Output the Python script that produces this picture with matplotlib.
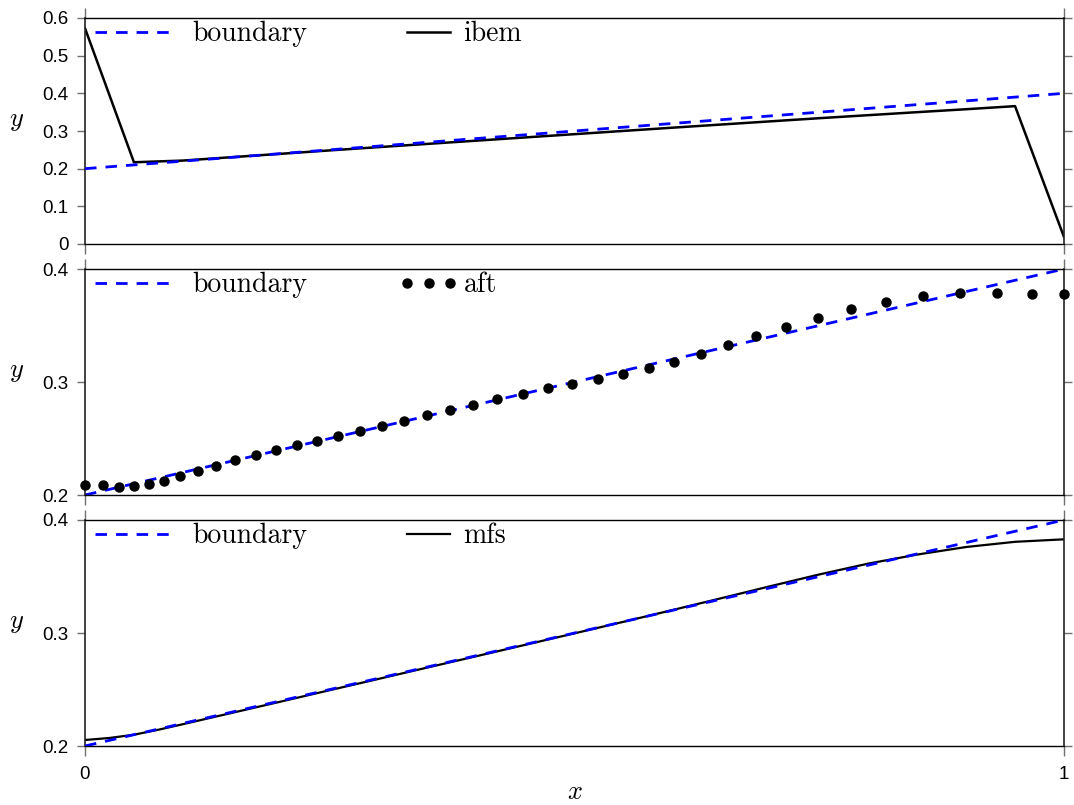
import matplotlib
matplotlib.use('Agg')
import matplotlib.pyplot as plt
from matplotlib.lines import Line2D
from matplotlib.legend_handler import HandlerLine2D

plt.rcParams['mathtext.fontset'] = 'cm'
plt.rcParams['lines.scale_dashes'] = False

# ---------------- data ----------------
boundary_x = [0.0, 0.25, 0.5, 0.75, 1.0]
boundary_y = [0.2, 0.25, 0.3, 0.35, 0.4]

ibem_x = [0.0, 0.05, 0.1, 0.15, 0.2, 0.25, 0.3, 0.35, 0.4, 0.45, 0.5,
          0.55, 0.6, 0.65, 0.7, 0.75, 0.8, 0.85, 0.9, 0.95, 1.0]
ibem_y = [0.5727, 0.2170, 0.2215, 0.2305, 0.2395, 0.2485, 0.2572, 0.2658,
          0.2744, 0.2830, 0.2916, 0.3002, 0.3088, 0.3172, 0.3256, 0.3340,
          0.3420, 0.3500, 0.3578, 0.3660, 0.0186]

aft_x = [0.0, 0.0181, 0.0347, 0.0501, 0.0654, 0.0810, 0.0973, 0.1151, 0.1341,
         0.1535, 0.1744, 0.1951, 0.2162, 0.2370, 0.2587, 0.2809, 0.3034,
         0.3258, 0.3490, 0.3728, 0.3966, 0.4211, 0.4471, 0.4726, 0.4978,
         0.5240, 0.5498, 0.5758, 0.6019, 0.6289, 0.6563, 0.6854, 0.7163,
         0.7484, 0.7827, 0.8185, 0.8560, 0.8941, 0.9313, 0.9673, 1.0]
aft_y = [0.2086, 0.2086, 0.2074, 0.2077, 0.2094, 0.2127, 0.2165, 0.2212, 0.2260,
         0.2307, 0.2351, 0.2395, 0.2440, 0.2481, 0.2522, 0.2566, 0.2611,
         0.2655, 0.2704, 0.2752, 0.2799, 0.2850, 0.2897, 0.2944, 0.2985,
         0.3029, 0.3074, 0.3124, 0.3180, 0.3245, 0.3324, 0.3404, 0.3484,
         0.3569, 0.3643, 0.3711, 0.3758, 0.3785, 0.3785, 0.3776, 0.3776]

mfs_x = [0.0, 0.025, 0.05, 0.075, 0.1, 0.15, 0.2, 0.25, 0.3, 0.35, 0.4, 0.45, 0.5,
         0.55, 0.6, 0.65, 0.7, 0.75, 0.8, 0.85, 0.9, 0.95, 1.0]
mfs_y = [0.2053, 0.2071, 0.2100, 0.2144, 0.2193, 0.2293, 0.2393, 0.2494, 0.2594,
         0.2695, 0.2795, 0.2896, 0.2997, 0.3099, 0.3203, 0.3308, 0.3414, 0.3518,
         0.3614, 0.3694, 0.3761, 0.3807, 0.3829]

top_yticks = [0, 0.1, 0.2, 0.3, 0.4, 0.5, 0.6]
top_yticklabels = ['0', '0.1', '0.2', '0.3', '0.4', '0.5', '0.6']
low_yticks = [0.2, 0.3, 0.4]
low_yticklabels = ['0.2', '0.3', '0.4']
xticks = [0, 1]
xticklabels = ['0', '1']

# ---------------- figure ----------------
W, H = 1074, 805
fig = plt.figure(figsize=(W / 100, H / 100), dpi=100)

left = 85 / W
width = 979 / W
ph = 226 / H
tops = [18, 269, 520]
axes = [fig.add_axes([left, 1 - (t + 226) / H, width, ph]) for t in tops]

tick_font = dict(family='Liberation Sans', size=13.5)
leg_font = dict(family='cmr10', size=20)
BLUE = '#0000ff'
TICKC = '#707070'
DASH = (8.3, 6.5)


def style(ax, yticks, yticklabels, ylim, show_x):
    ax.set_xlim(0, 1)
    ax.set_ylim(*ylim)
    ax.set_yticks(yticks)
    ax.set_yticklabels(yticklabels, fontdict=tick_font)
    ax.set_xticks(xticks)
    if show_x:
        ax.set_xticklabels(xticklabels, fontdict=tick_font)
    else:
        ax.set_xticklabels(['', ''])
    ax.tick_params(axis='y', left=True, right=True, direction='out', length=5.8,
                   width=1.0, color=TICKC, pad=6.0, labelsize=13.5)
    ax.tick_params(axis='x', top=True, bottom=True, direction='out', length=7.2,
                   width=1.0, color=TICKC, pad=7.0, labelsize=13.5,
                   labelbottom=show_x, labeltop=False)
    for s in ['top', 'bottom']:
        ax.spines[s].set_linewidth(1.0)
        ax.spines[s].set_color('black')
    for s in ['left', 'right']:
        ax.spines[s].set_linewidth(1.2)
        ax.spines[s].set_color('#222222')
    ax.set_ylabel('$y$', fontsize=19, rotation=0, va='center', ha='center')
    ax.yaxis.set_label_coords(-0.0695, 0.55)


def legends(ax, other_handle, other_label, handler=None):
    bh = Line2D([], [], color=BLUE, lw=2.0, dashes=DASH)
    l1 = ax.legend([bh], ['boundary'], loc='upper left',
                   bbox_to_anchor=(0.0102, 0.986), frameon=False,
                   borderpad=0, borderaxespad=0, handlelength=2.8,
                   handletextpad=0.7, prop=leg_font)
    ax.add_artist(l1)
    kw = {}
    if handler is not None:
        kw['handler_map'] = {other_handle: handler}
        kw['numpoints'] = 3
    ax.legend([other_handle], [other_label], loc='upper left',
              bbox_to_anchor=(0.329, 0.986), frameon=False,
              borderpad=0, borderaxespad=0, handlelength=1.55,
              handletextpad=0.48, prop=leg_font, **kw)


# top: ibem
ax = axes[0]
ax.plot(ibem_x, ibem_y, color='black', lw=1.8, zorder=2)
ax.plot(boundary_x, boundary_y, color=BLUE, lw=2.0, dashes=DASH, zorder=3)
style(ax, top_yticks, top_yticklabels, (0, 0.6), False)
legends(ax, Line2D([], [], color='black', lw=1.8), 'ibem')

# middle: aft
ax = axes[1]
ax.plot(boundary_x, boundary_y, color=BLUE, lw=2.0, dashes=DASH, zorder=2)
ax.plot(aft_x, aft_y, linestyle='none', marker='o', markersize=6.5,
        color='black', zorder=3, clip_on=False)
style(ax, low_yticks, low_yticklabels, (0.2, 0.4), False)
dot_handle = Line2D([], [], linestyle='none', marker='o', markersize=6.5, color='black')
legends(ax, dot_handle, 'aft', handler=HandlerLine2D(marker_pad=0, numpoints=3))

# bottom: mfs
ax = axes[2]
ax.plot(mfs_x, mfs_y, color='black', lw=1.6, zorder=2)
ax.plot(boundary_x, boundary_y, color=BLUE, lw=2.0, dashes=DASH, zorder=3)
style(ax, low_yticks, low_yticklabels, (0.2, 0.4), True)
legends(ax, Line2D([], [], color='black', lw=1.6), 'mfs')
ax.set_xlabel('$x$', fontsize=19, va='center')
ax.xaxis.set_label_coords(0.5005, -0.205)

fig.savefig('out.png', dpi=100)
